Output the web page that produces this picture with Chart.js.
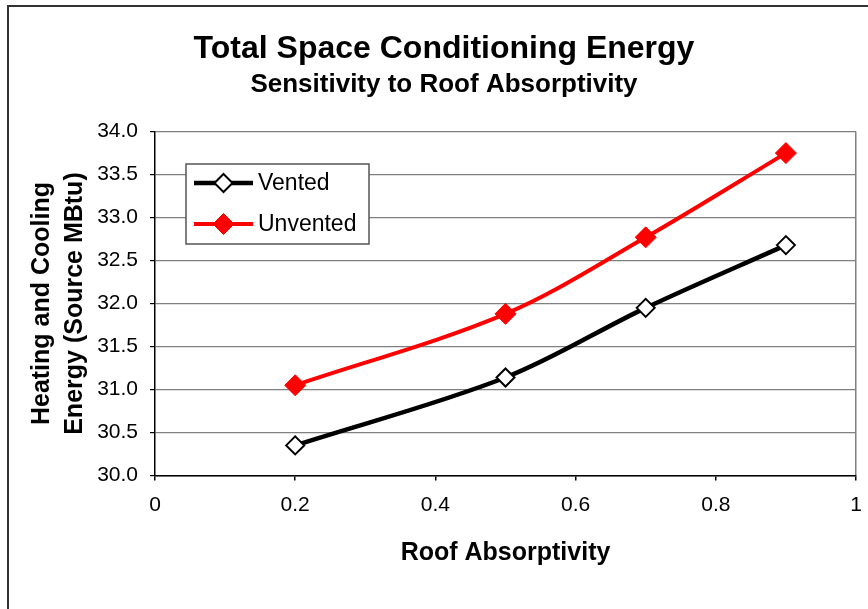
<!DOCTYPE html>
<html>
<head>
<meta charset="utf-8">
<script src="https://cdn.jsdelivr.net/npm/chart.js@4.4.1/dist/chart.umd.min.js"></script>
<style>
    body { margin: 0; background: #fff; }
    #chart { display: block; }
</style>
</head>
<body>
<canvas id="chart" width="868" height="609"></canvas>
<script>
// values
const absorptivity = [0.2, 0.5, 0.7, 0.9];
const vented = [30.35, 31.14, 31.95, 32.68];
const unvented = [31.05, 31.88, 32.77, 33.75];
const xTickLabels = ['0', '0.2', '0.4', '0.6', '0.8', '1'];
const seriesNames = ['Vented', 'Unvented'];

const FONT = "'Liberation Sans', Arial, sans-serif";

function toPoints(xs, ys) {
    return xs.map((x, i) => ({ x: x, y: ys[i] }));
}

// frame round the chart (only left and top edges show in the reference)
const framePlugin = {
    id: 'frame',
    beforeDraw(chart) {
        const ctx = chart.ctx;
        ctx.save();
        ctx.fillStyle = '#fff';
        ctx.fillRect(0, 0, chart.width, chart.height);
        ctx.strokeStyle = '#333';
        ctx.lineWidth = 2;
        ctx.beginPath();
        ctx.moveTo(8, chart.height);
        ctx.lineTo(8, 6);
        ctx.lineTo(chart.width, 6);
        ctx.stroke();
        ctx.restore();
    }
};

// boxed legend inside the plot, like Excel's
const boxLegend = {
    id: 'boxLegend',
    afterDraw(chart) {
        const ctx = chart.ctx;
        const box = { x: 186, y: 164, w: 183, h: 80 };
        ctx.save();
        ctx.fillStyle = '#fff';
        ctx.fillRect(box.x, box.y, box.w, box.h);
        ctx.strokeStyle = '#555';
        ctx.lineWidth = 1.5;
        ctx.strokeRect(box.x, box.y, box.w, box.h);

        const rowY = [183, 224];
        chart.data.datasets.forEach((ds, i) => {
            const y = rowY[i];
            ctx.strokeStyle = ds.borderColor;
            ctx.lineWidth = ds.borderWidth;
            ctx.beginPath();
            ctx.moveTo(194, y);
            ctx.lineTo(253, y);
            ctx.stroke();
            ctx.fillStyle = ds.pointBackgroundColor;
            ctx.strokeStyle = ds.pointBorderColor;
            ctx.lineWidth = ds.pointBorderWidth;
            Chart.helpers.drawPoint(ctx, {
                pointStyle: 'rectRot',
                radius: ds.pointRadius,
                rotation: 0,
                borderWidth: ds.pointBorderWidth
            }, 223.5, y);
            ctx.fillStyle = '#000';
            ctx.font = '23px ' + FONT;
            ctx.textBaseline = 'middle';
            ctx.textAlign = 'left';
            ctx.fillText(ds.label, 258, y + 1);
        });
        ctx.restore();
    }
};

const ctx = document.getElementById('chart').getContext('2d');
new Chart(ctx, {
    type: 'line',
    data: {
        datasets: [
            {
                label: seriesNames[0],
                data: toPoints(absorptivity, vented),
                borderColor: '#000',
                borderWidth: 4.5,
                pointStyle: 'rectRot',
                pointRadius: 9,
                pointBackgroundColor: '#fff',
                pointBorderColor: '#000',
                pointBorderWidth: 2,
                tension: 0.33,
                fill: false
            },
            {
                label: seriesNames[1],
                data: toPoints(absorptivity, unvented),
                borderColor: '#ff0000',
                borderWidth: 4,
                pointStyle: 'rectRot',
                pointRadius: 10.5,
                pointBackgroundColor: '#ff0000',
                pointBorderColor: '#ff0000',
                pointBorderWidth: 1,
                tension: 0.33,
                fill: false
            }
        ]
    },
    options: {
        responsive: false,
        animation: false,
        devicePixelRatio: 1,
        layout: { padding: { left: 32, right: 12, top: 0, bottom: 0 } },
        plugins: {
            legend: { display: false },
            tooltip: { enabled: false },
            title: {
                display: true,
                text: 'Total Space Conditioning Energy',
                color: '#000',
                font: { family: FONT, size: 32, weight: 'bold' },
                padding: { top: 29.5, bottom: 0 }
            },
            subtitle: {
                display: true,
                text: 'Sensitivity to Roof Absorptivity',
                color: '#000',
                font: { family: FONT, size: 26, weight: 'bold' },
                padding: { top: 1.5, bottom: 31 }
            }
        },
        scales: {
            x: {
                type: 'linear',
                min: 0,
                max: 1,
                afterFit(scale) {
                    scale.height = 133.5;
                    scale.paddingLeft = 0;
                    scale.paddingRight = 0;
                },
                ticks: {
                    stepSize: 0.2,
                    color: '#000',
                    padding: 12.5,
                    maxRotation: 0,
                    font: { family: FONT, size: 21 },
                    callback: (v, i) => xTickLabels[i]
                },
                grid: {
                    drawOnChartArea: true,
                    color: c => (c.tick && c.tick.value === 1) ? '#808080' : 'rgba(0,0,0,0)',
                    tickColor: '#000',
                    tickLength: 5,
                    lineWidth: 1.5
                },
                border: { color: '#000', width: 1.5 },
                title: {
                    display: true,
                    text: 'Roof Absorptivity',
                    color: '#000',
                    font: { family: FONT, size: 25, weight: 'bold' },
                    padding: { top: 0, bottom: 41 }
                }
            },
            y: {
                min: 30,
                max: 34,
                afterFit(scale) { scale.width = 123; },
                ticks: {
                    stepSize: 0.5,
                    color: '#000',
                    padding: 12,
                    font: { family: FONT, size: 21 },
                    callback: v => v.toFixed(1)
                },
                grid: {
                    color: '#808080',
                    tickColor: '#000',
                    tickLength: 5,
                    lineWidth: 1.2
                },
                border: { color: '#000', width: 1.5 },
                title: {
                    display: true,
                    text: ['Heating and Cooling', 'Energy (Source MBtu)'],
                    color: '#000',
                    font: { family: FONT, size: 25, weight: 'bold', lineHeight: 1.32 },
                    padding: { top: -6.5, bottom: 0 }
                }
            }
        }
    },
    plugins: [framePlugin, boxLegend]
});
</script>
</body>
</html>
